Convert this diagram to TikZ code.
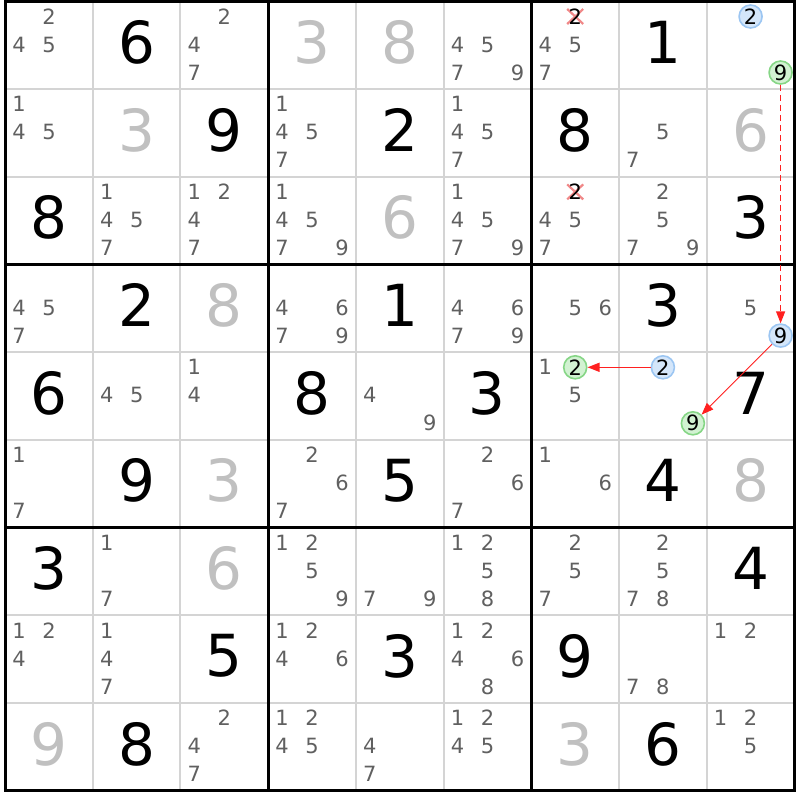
\documentclass[tikz,border=0pt]{standalone}
\usepackage{fontspec}
\setmainfont{DejaVu Sans}
\usetikzlibrary{arrows.meta}
\definecolor{pencil}{HTML}{606060}
\definecolor{given}{HTML}{C0C0C0}
\definecolor{thingrid}{HTML}{D4D4D4}
\definecolor{bluefill}{HTML}{D4E6FA}
\definecolor{bluedraw}{HTML}{9CC6F2}
\definecolor{greenfill}{HTML}{D2F2D2}
\definecolor{greendraw}{HTML}{86D686}
\definecolor{linkred}{HTML}{FF2020}
\definecolor{crossred}{HTML}{F08888}
\tikzset{
  pm/.style={inner sep=0pt, text=pencil, font=\fontsize{21}{21}\selectfont},
  solved/.style={inner sep=0pt, text=black, font=\fontsize{58}{58}\selectfont},
  givenv/.style={solved, text=given},
  bluec/.style={circle, draw=bluedraw, fill=bluefill, line width=1.6pt, minimum size=23pt, inner sep=0pt, text=black, font=\fontsize{21}{21}\selectfont},
  greenc/.style={bluec, draw=greendraw, fill=greenfill},
  link/.style={draw=linkred, -{Triangle[length=12pt,width=9pt]}, line width=1.4pt},
  crossmark/.style={draw=crossred, line width=2.2pt},
  thinline/.style={draw=thingrid, line width=2pt},
  thickline/.style={draw=black, line width=3pt},
}
\begin{document}
\begin{tikzpicture}[x=1pt,y=-1pt]
\useasboundingbox (0,0) rectangle (800,800);
\fill[white] (0,0) rectangle (800,800);
% thin grid lines
\foreach \i in {1,2,4,5,7,8}{
  \draw[thinline] ({5+\i*87.7},1.5) -- ({5+\i*87.7},790.8);
  \draw[thinline] (5,{1.5+\i*87.7}) -- (794.3,{1.5+\i*87.7});
}
% thick lines
\foreach \i in {3,6}{
  \draw[thickline] ({5+\i*87.7},1.5) -- ({5+\i*87.7},790.8);
  \draw[thickline] (5,{1.5+\i*87.7}) -- (794.3,{1.5+\i*87.7});
}
\draw[thickline] (5,1.5) rectangle (794.3,790.8);
% solved digits (black)
\foreach \r/\c/\d in {0/1/6,0/7/1,1/2/9,1/4/2,1/6/8,2/0/8,2/8/3,3/1/2,3/4/1,3/7/3,4/0/6,4/3/8,4/5/3,4/8/7,5/1/9,5/4/5,5/7/4,6/0/3,6/8/4,7/2/5,7/4/3,7/6/9,8/1/8,8/7/6}{
  \node[solved] (g\r\c) at ({5+\c*87.7+43.85},{1.5+\r*87.7+40.8}) {\d};
}
% given digits (gray)
\foreach \r/\c/\d in {0/3/3,0/4/8,1/1/3,1/8/6,2/4/6,3/2/8,5/2/3,5/8/8,6/2/6,8/0/9,8/6/3}{
  \node[givenv] (g\r\c) at ({5+\c*87.7+43.85},{1.5+\r*87.7+40.8}) {\d};
}
% pencil marks
\foreach \r/\c/\ds in {0/0/{2,4,5},0/2/{2,4,7},0/5/{4,5,7,9},0/6/{4,5,7},
  1/0/{1,4,5},1/3/{1,4,5,7},1/5/{1,4,5,7},1/7/{5,7},
  2/1/{1,4,5,7},2/2/{1,2,4,7},2/3/{1,4,5,7,9},2/5/{1,4,5,7,9},2/6/{4,5,7},2/7/{2,5,7,9},
  3/0/{4,5,7},3/3/{4,6,7,9},3/5/{4,6,7,9},3/6/{5,6},3/8/{5},
  4/1/{4,5},4/2/{1,4},4/4/{4,9},4/6/{1,5},
  5/0/{1,7},5/3/{2,6,7},5/5/{2,6,7},5/6/{1,6},
  6/1/{1,7},6/3/{1,2,5,9},6/4/{7,9},6/5/{1,2,5,8},6/6/{2,5,7},6/7/{2,5,7,8},
  7/0/{1,2,4},7/1/{1,4,7},7/3/{1,2,4,6},7/5/{1,2,4,6,8},7/7/{7,8},7/8/{1,2},
  8/2/{2,4,7},8/3/{1,2,4,5},8/4/{4,7},8/5/{1,2,4,5},8/8/{1,2,5}}{
  \foreach \d in \ds {
    \pgfmathsetmacro\px{5+\c*87.7+14+30*mod(\d-1,3)}
    \pgfmathsetmacro\py{1.5+\r*87.7+15+28*floor((\d-1)/3)}
    \node[pm] (p\r\c\d) at (\px,\py) {\d};
  }
}
% crossed-out candidates
\foreach \nm/\x/\y in {p062/575.2/16.5, p262/575.2/191.9}{
  \draw[crossmark] ({\x-8},{\y-7.5}) -- ({\x+8},{\y+7.5});
  \draw[crossmark] ({\x-8},{\y+7.5}) -- ({\x+8},{\y-7.5});
  \node[pm, text=black] (\nm) at (\x,\y) {2};
}
% highlighted candidates
\node[bluec]  (p082) at (750.6,16.5) {2};
\node[greenc] (p089) at (780.6,72.5) {9};
\node[bluec]  (p389) at (780.6,335.6) {9};
\node[greenc] (p462) at (575.2,367.3) {2};
\node[bluec]  (p472) at (662.9,367.3) {2};
\node[greenc] (p479) at (692.9,423.3) {9};
% links
\draw[link, dash pattern=on 6pt off 4pt] (p089) -- (p389);
\draw[link] (p472) -- (p462);
\draw[link, line width=0.9pt] (p389) -- (p479);
\end{tikzpicture}
\end{document}
